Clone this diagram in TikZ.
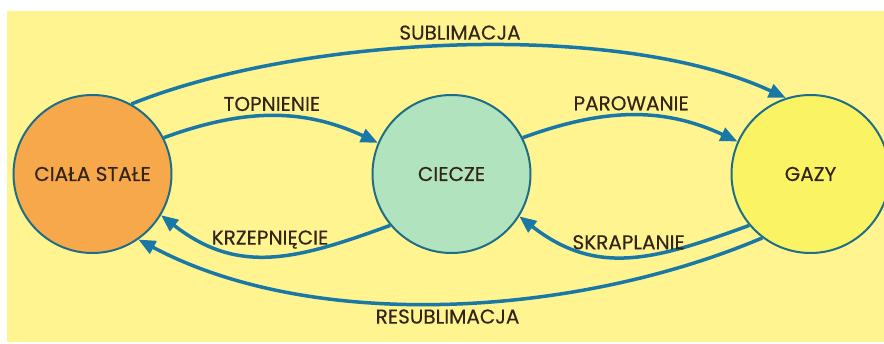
\documentclass[tikz,border=0pt]{standalone}
\usepackage{fontspec}
\setmainfont{Poppins}[FakeBold=0.3]
\usepackage{tikz}
\usetikzlibrary{positioning, arrows.meta}
\definecolor{bgyellow}{HTML}{FFF48F}
\definecolor{solidfill}{HTML}{F6A84B}
\definecolor{liquidfill}{HTML}{B1E3BE}
\definecolor{gasfill}{HTML}{FAF464}
\definecolor{ring}{HTML}{1F6E87}
\definecolor{flowblue}{HTML}{1A78A6}
\definecolor{txt}{HTML}{33241A}

\begin{document}
\begin{tikzpicture}[
    x=1pt, y=1pt,
    node distance=199pt,
    >={Triangle[length=17pt, width=14pt]},
    every node/.style={font=\fontsize{20}{24}\selectfont, text=txt},
    state/.style={circle, draw=ring, line width=2pt, minimum size=158pt, inner sep=0pt},
    flow/.style={->, draw=flowblue, line width=3.5pt}
]
    % Background
    \useasboundingbox (0,0) rectangle (884,343);
    \fill[bgyellow] (7,1) rectangle (884,332);

    % Define nodes
    \node[state, fill=solidfill] (S) at (92.5,169) {CIAŁA STAŁE};
    \node[state, fill=liquidfill] (C) [right=of S] {CIECZE};
    \node[state, fill=gasfill] (G) [right=of C] {GAZY};

    % Draw arrows
    \draw[flow] (S.61) to[out=22, in=155, looseness=0.72] node[above=1pt] {SUBLIMACJA} (G.108);
    \draw[flow] (S.27) to[out=20, in=155] node[above=0pt] {TOPNIENIE} (C.157);
    \draw[flow] (C.27) to[out=20, in=155] node[above=0pt] {PAROWANIE} (G.156);
    \draw[flow] (C.-140) to[out=-160, in=-38, looseness=1.1] node[above=2pt] {KRZEPNIĘCIE} (S.-31);
    \draw[flow] (G.-140) to[out=-160, in=-38, looseness=1.1] node[above=2pt] {SKRAPLANIE} (C.-32);
    \draw[flow] (G.-127) to[out=-157, in=-28, looseness=0.82] node[below=1pt] {RESUBLIMACJA} (S.-55);
\end{tikzpicture}
\end{document}
